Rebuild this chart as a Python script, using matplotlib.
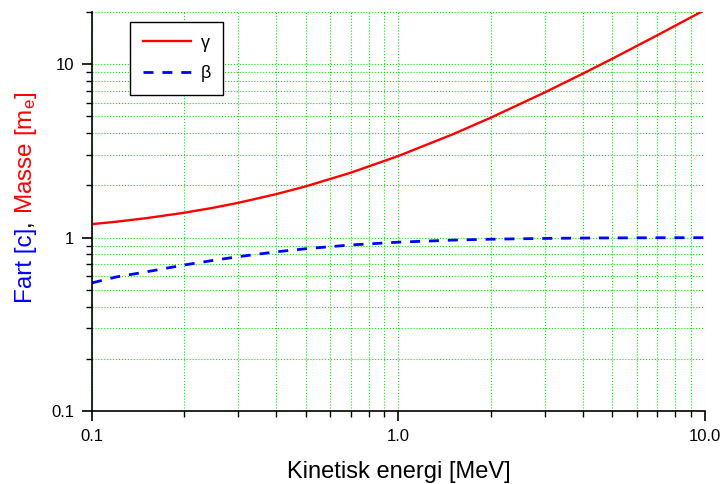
import numpy as np
import matplotlib.pyplot as plt
from matplotlib.ticker import LogLocator, FixedLocator, FixedFormatter, NullFormatter

plt.rcParams["font.family"] = ["Liberation Sans", "DejaVu Sans"]
plt.rcParams["mathtext.fontset"] = "custom"
plt.rcParams["mathtext.rm"] = "Liberation Sans"
plt.rcParams["mathtext.it"] = "Liberation Sans"

# kinetic energy (MeV) and the values
energy = [0.1, 0.12, 0.15, 0.2, 0.25, 0.3, 0.4, 0.5, 0.7, 1.0, 1.5, 2.0, 3.0, 4.0, 5.0, 7.0, 10.0]
gamma = [1.196, 1.235, 1.294, 1.391, 1.489, 1.587, 1.783, 1.978, 2.370, 2.957, 3.935, 4.914, 6.871, 8.828, 10.78, 14.70, 20.57]
beta = [0.548, 0.593, 0.634, 0.695, 0.740, 0.776, 0.828, 0.863, 0.907, 0.941, 0.967, 0.979, 0.989, 0.994, 0.996, 0.998, 0.999]

x_ticks = [0.1, 1.0, 10.0]
x_labels = ["0.1", "1.0", "10.0"]
y_ticks = [0.1, 1, 10]
y_labels = ["0.1", "1", "10"]

fig = plt.figure(figsize=(7.25, 4.84), dpi=100)
ax = fig.add_axes([0.127, 0.151, 0.845, 0.824])

ax.plot(energy, gamma, color="red", lw=1.7, label="γ")
ax.plot(energy, beta, color="blue", lw=2.0, dashes=(3.6, 3.2), label="β")

ax.set_xscale("log")
ax.set_yscale("log")
ax.set_xlim(0.1, 10)
ax.set_ylim(0.1, 20)

ax.xaxis.set_major_locator(FixedLocator(x_ticks))
ax.xaxis.set_major_formatter(FixedFormatter(x_labels))
ax.yaxis.set_major_locator(FixedLocator(y_ticks))
ax.yaxis.set_major_formatter(FixedFormatter(y_labels))
ax.xaxis.set_minor_locator(LogLocator(base=10, subs=np.arange(2, 10)))
ax.yaxis.set_minor_locator(LogLocator(base=10, subs=np.arange(2, 10)))
ax.xaxis.set_minor_formatter(NullFormatter())
ax.yaxis.set_minor_formatter(NullFormatter())

ax.tick_params(which="major", direction="out", length=7, width=1.2, labelsize=12, pad=6)
ax.tick_params(which="minor", direction="out", length=4, width=1.0)

for side in ["top", "right"]:
    ax.spines[side].set_visible(False)
for side in ["left", "bottom"]:
    ax.spines[side].set_linewidth(1.2)

ax.grid(which="both", color="#00ee00", linestyle=":", linewidth=0.8)
ax.set_axisbelow(True)

leg = ax.legend(loc="upper left", bbox_to_anchor=(0.062, 0.975), borderaxespad=0,
                fontsize=13, fancybox=False, edgecolor="black", framealpha=1,
                handlelength=2.7, handletextpad=0.5, borderpad=0.7, labelspacing=0.75)
leg.get_frame().set_linewidth(1.0)

ax.set_xlabel("Kinetisk energi [MeV]", fontsize=17, labelpad=12)

# two-colour y label, stacked bottom to top
t1 = fig.text(0.036, 0.374, "Fart [c]", color="blue", fontsize=17.5,
              rotation=90, ha="center", va="bottom")
t2 = ax.annotate(", ", xycoords=t1, xy=(0.5, 1), color="black", fontsize=17.5,
                 rotation=90, ha="center", va="bottom")
t3 = ax.annotate("Masse [m$_{e}$]", xycoords=t2, xy=(0.5, 1), color="red", fontsize=17.5,
                 rotation=90, ha="center", va="bottom")

fig.savefig("out.png", dpi=100)
